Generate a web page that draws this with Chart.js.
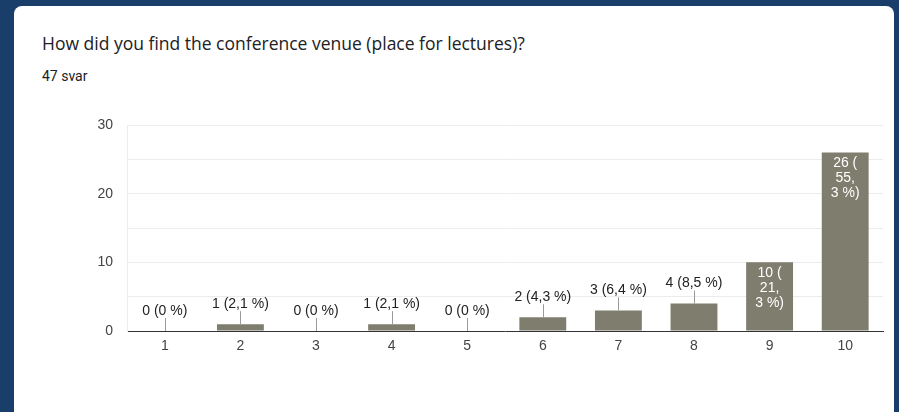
<!DOCTYPE html>
<html>
<head>
<meta charset="utf-8">
<script src="https://cdn.jsdelivr.net/npm/chart.js@4.4.1/dist/chart.umd.min.js"></script>
<style>
  html, body { margin: 0; padding: 0; }
  body { width: 899px; height: 412px; background: #1a3e6a; position: relative; overflow: hidden; }
  .card { position: absolute; left: 14px; top: 6px; width: 880px; height: 420px; background: #fff; border-radius: 8px 8px 0 0; }
  .title { position: absolute; left: 42px; top: 33px; font-family: "Open Sans", Roboto, sans-serif; font-size: 17.5px; line-height: 20px; color: #202124; white-space: nowrap; }
  .count { position: absolute; left: 42px; top: 67px; font-family: Roboto, "Noto Sans", sans-serif; font-size: 14px; line-height: 18px; color: #202124; }
  .chart-box { position: absolute; left: 0; top: 0; width: 899px; height: 412px; }
</style>
</head>
<body>
<div class="card"></div>
<div class="title">How did you find the conference venue (place for lectures)?</div>
<div class="count">47 svar</div>
<div class="chart-box"><canvas id="venueChart"></canvas></div>
<script>
const categories = ["1", "2", "3", "4", "5", "6", "7", "8", "9", "10"];
const answerCounts = [0, 1, 0, 1, 0, 2, 3, 4, 10, 26];
// outside labels are plain strings, labels that sit inside the bar are split in lines
const barLabels = [
  "0 (0 %)", "1 (2,1 %)", "0 (0 %)", "1 (2,1 %)", "0 (0 %)",
  "2 (4,3 %)", "3 (6,4 %)", "4 (8,5 %)",
  ["10 (", "21,", "3 %)"],
  ["26 (", "55,", "3 %)"],
];
const yTickValues = [0, 10, 20, 30];

const labelFont = "14px 'Liberation Sans', Arial, sans-serif";

const barLabelPlugin = {
  id: "barLabels",
  afterDatasetsDraw(chart) {
    const meta = chart.getDatasetMeta(0);
    const context = chart.ctx;

    context.save();
    context.font = labelFont;
    context.textAlign = "center";
    context.textBaseline = "middle";

    meta.data.forEach((bar, index) => {
      const text = barLabels[index];
      const x = Math.round(bar.x) + 0.5;
      const topY = bar.y;

      if (Array.isArray(text)) {
        context.fillStyle = "#ffffff";
        text.forEach((line, lineIndex) => {
          context.fillText(line, bar.x, topY + 10.5 + lineIndex * 15);
        });
        return;
      }

      context.strokeStyle = "#9a9a9a";
      context.lineWidth = 1;
      context.beginPath();
      context.moveTo(x, topY);
      context.lineTo(x, topY - 13);
      context.stroke();

      context.fillStyle = "#222222";
      context.fillText(text, bar.x, topY - 20);
    });

    context.restore();
  },
};

new Chart(document.getElementById("venueChart"), {
  type: "bar",
  data: {
    labels: categories,
    datasets: [
      {
        data: answerCounts,
        backgroundColor: "#7f7d6e",
        borderWidth: 0,
        categoryPercentage: 1,
        barPercentage: 0.62,
      },
    ],
  },
  plugins: [barLabelPlugin],
  options: {
    responsive: true,
    maintainAspectRatio: false,
    animation: false,
    layout: {
      padding: { left: 77, right: 16, top: 125, bottom: 51 },
    },
    plugins: {
      legend: { display: false },
      tooltip: { enabled: false },
    },
    scales: {
      x: {
        afterFit(scale) {
          scale.height = 30;
        },
        grid: { display: false, drawTicks: false },
        border: { display: true, color: "#333333", width: 1 },
        ticks: {
          color: "#444444",
          padding: 7,
          font: { family: "'Liberation Sans', Arial, sans-serif", size: 14 },
        },
      },
      y: {
        min: 0,
        max: 30,
        afterFit(scale) {
          scale.width = 50;
        },
        grid: {
          drawTicks: false,
          color: (tickContext) => (tickContext.tick.value === 0 ? "rgba(0,0,0,0)" : "#ececec"),
        },
        border: { display: true, color: "#ececec" },
        ticks: {
          stepSize: 5,
          color: "#444444",
          padding: 14,
          font: { family: "'Liberation Sans', Arial, sans-serif", size: 14 },
          callback: (value) => (yTickValues.includes(value) ? value : ""),
        },
      },
    },
  },
});
</script>
</body>
</html>
